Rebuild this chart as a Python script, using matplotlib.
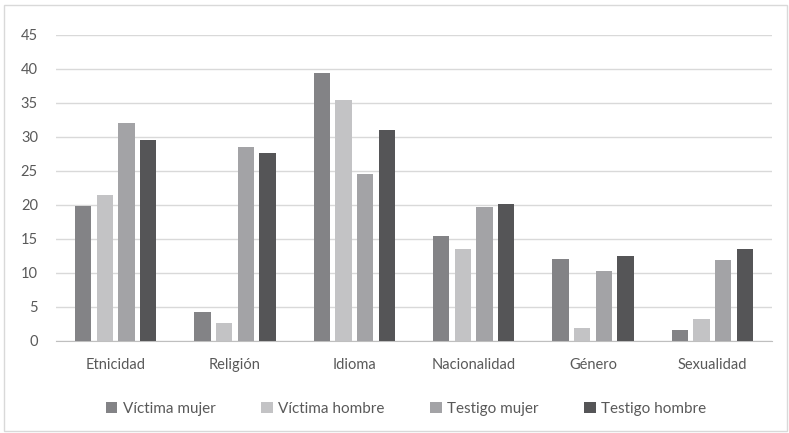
import numpy as np
import matplotlib.pyplot as plt
from matplotlib.patches import Rectangle

plt.rcParams['font.family'] = ['Lato', 'DejaVu Sans']

categories = ["Etnicidad", "Religión", "Idioma", "Nacionalidad", "Género", "Sexualidad"]
series_names = ["Víctima mujer", "Víctima hombre", "Testigo mujer", "Testigo hombre"]
victima_mujer = [19.9, 4.2, 39.4, 15.4, 12.0, 1.6]
victima_hombre = [21.5, 2.6, 35.4, 13.6, 1.9, 3.2]
testigo_mujer = [32.1, 28.6, 24.6, 19.7, 10.3, 11.9]
testigo_hombre = [29.6, 27.7, 31.0, 20.1, 12.5, 13.6]

series = [victima_mujer, victima_hombre, testigo_mujer, testigo_hombre]
colors = ["#838386", "#c3c3c5", "#a3a3a6", "#555557"]

W, H = 789, 433
fig = plt.figure(figsize=(W / 100, H / 100), dpi=100)
ax = fig.add_axes([56 / W, (H - 341) / H, (772 - 56) / W, (341 - 35) / H])

x = np.arange(len(categories))
step = 0.182
width = 0.137
for i, (vals, name, c) in enumerate(zip(series, series_names, colors)):
    ax.bar(x + (i - 1.5) * step, vals, width, color=c, label=name, zorder=3)

ax.set_xlim(-0.5, len(categories) - 0.5)
ax.set_ylim(0, 45)
ax.set_yticks(range(0, 46, 5))
ax.grid(axis='y', color='#d9d9d9', linewidth=1, zorder=0)
ax.set_xticks(x)
ax.set_xticklabels(categories)
ax.tick_params(axis='both', length=0, labelsize=10.5, colors='#595959')
ax.tick_params(axis='x', pad=12)
ax.tick_params(axis='y', pad=13)
for s in ['top', 'right', 'left']:
    ax.spines[s].set_visible(False)
ax.spines['bottom'].set_color('#bfbfbf')

leg = fig.legend(loc='center', bbox_to_anchor=(406 / W, (H - 409) / H), ncol=4,
                 frameon=False, fontsize=11, handlelength=0.75, handleheight=0.75,
                 handletextpad=0.35, columnspacing=3.0)
for t in leg.get_texts():
    t.set_color('#595959')

# light frame around the whole chart
fig.patches.append(Rectangle((4 / W, 2 / H), (W - 6) / W, (H - 7) / H,
                             transform=fig.transFigure, fill=False,
                             edgecolor='#d9d9d9', linewidth=1))

fig.savefig("out.png", dpi=100)
